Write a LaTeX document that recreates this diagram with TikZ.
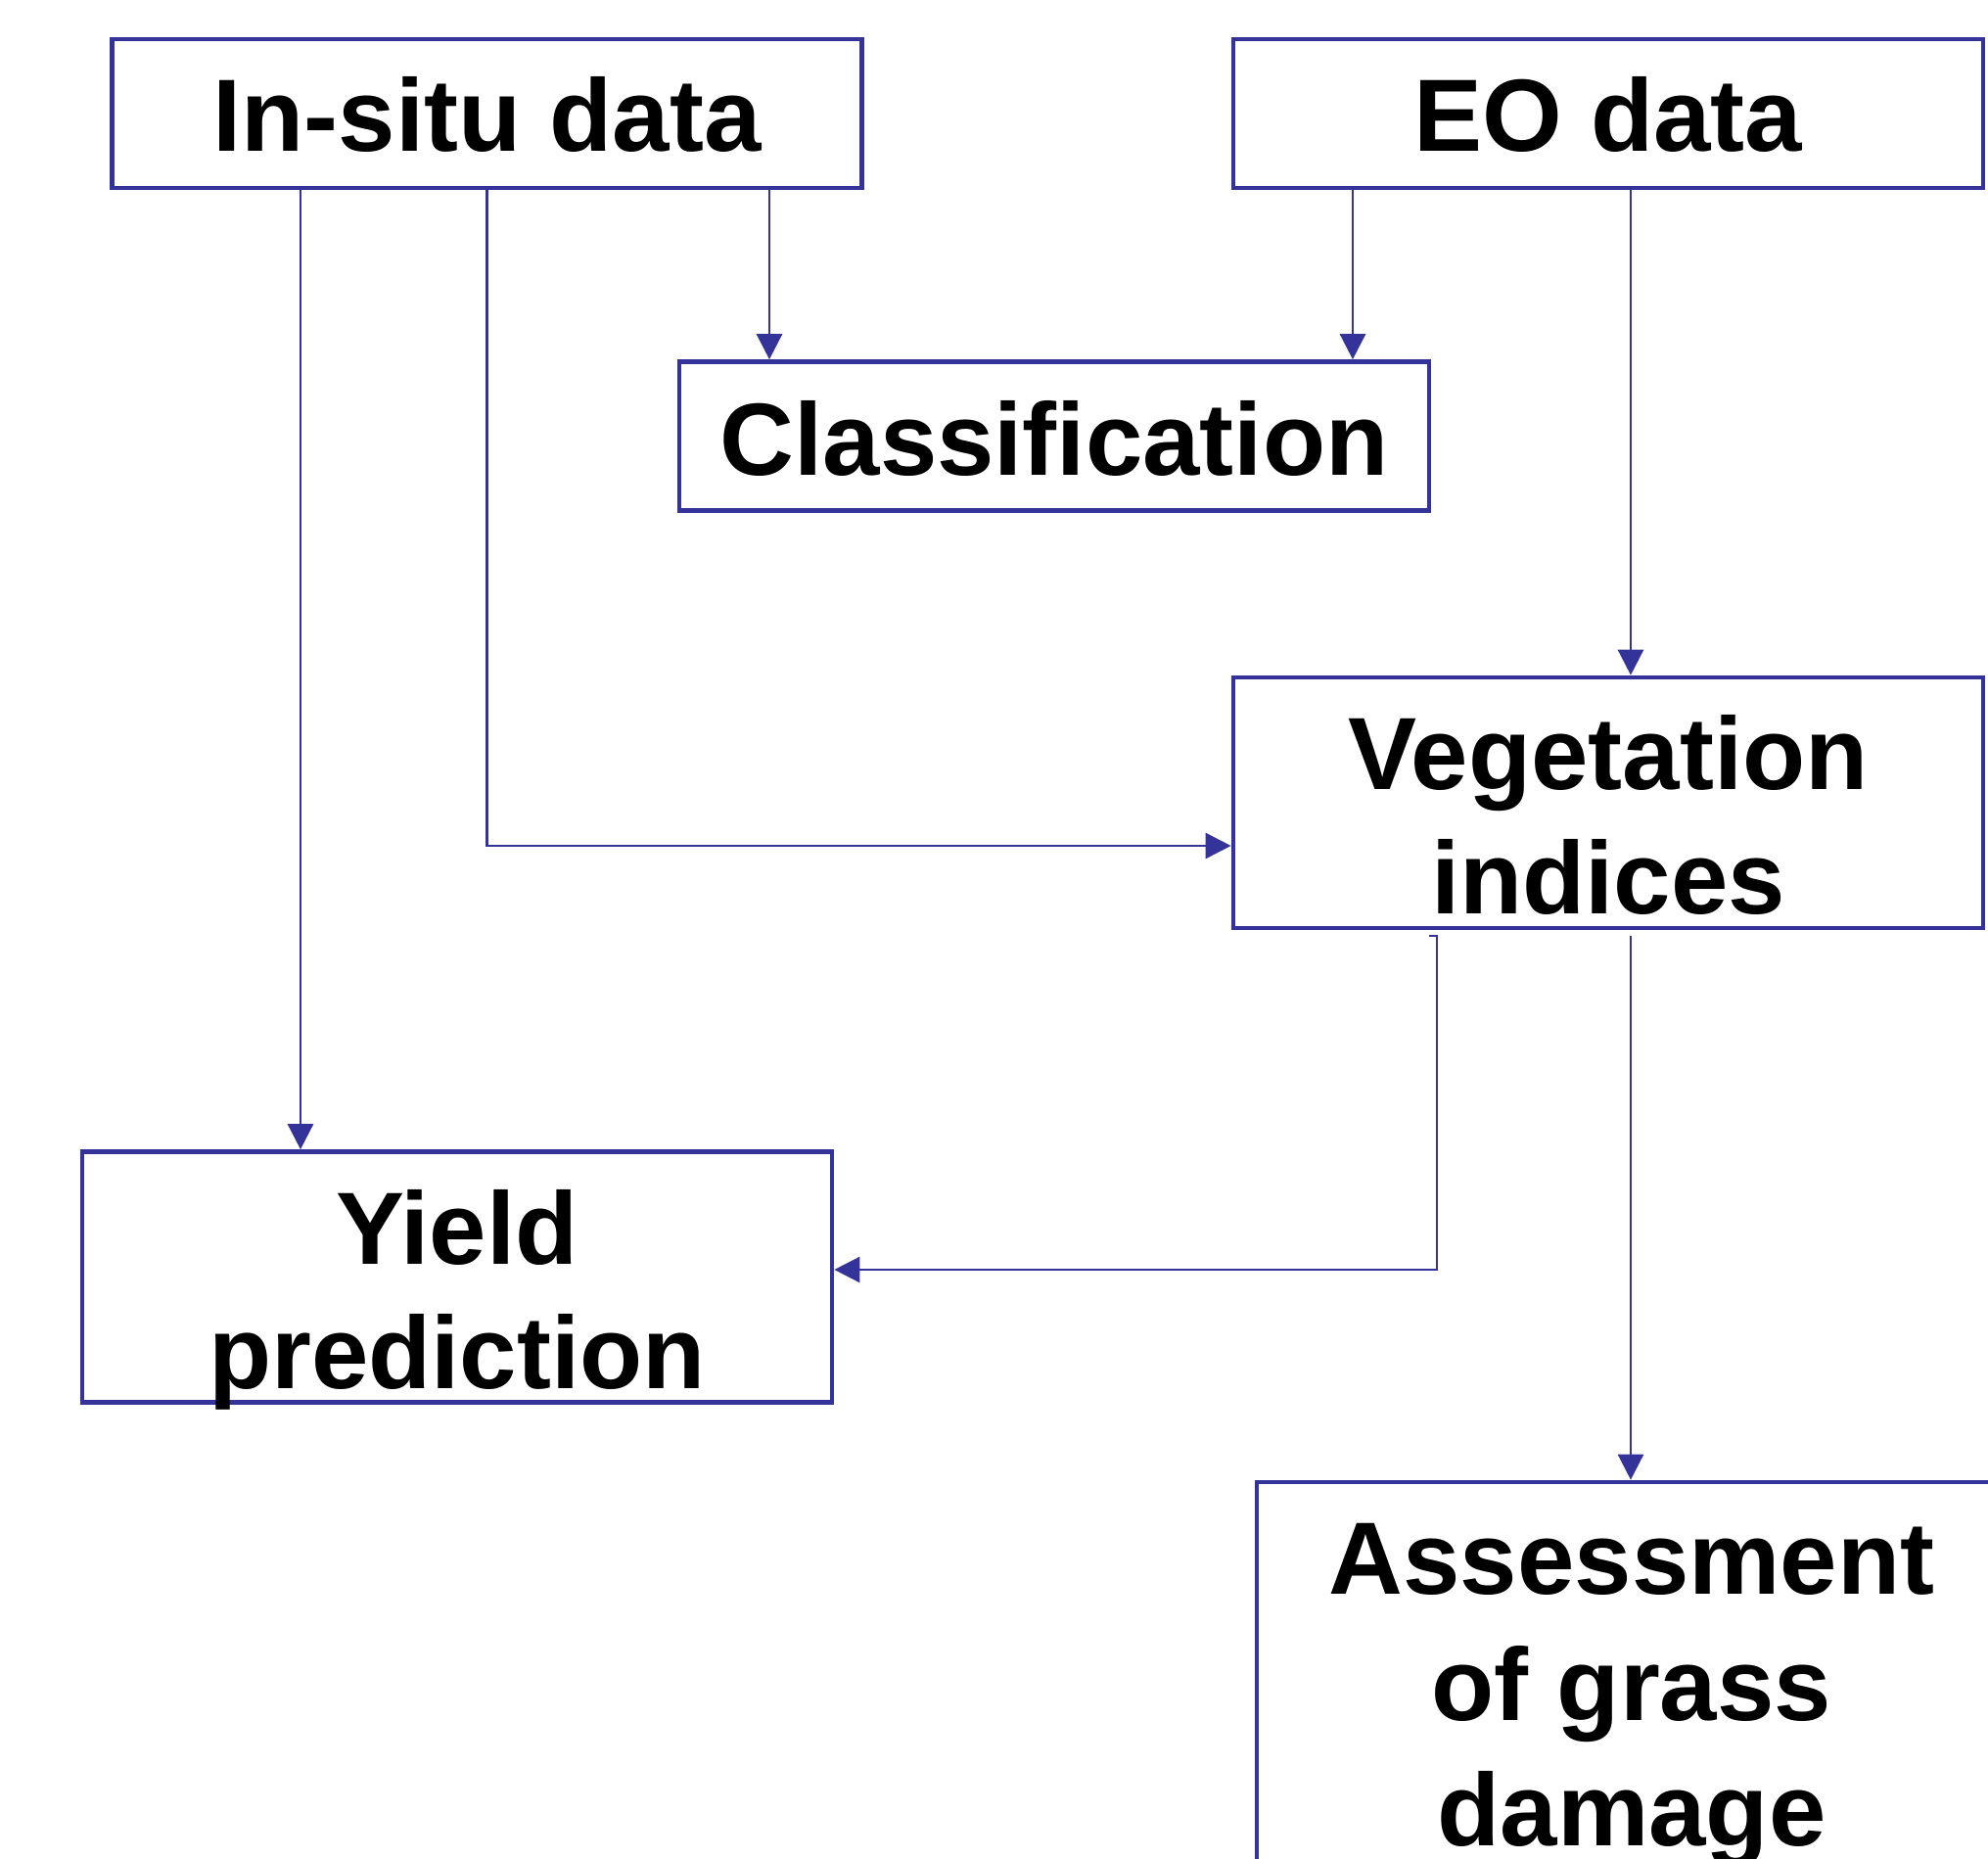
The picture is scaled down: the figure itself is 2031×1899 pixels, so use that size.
\documentclass[tikz,border=0pt]{standalone}
\usepackage{fontspec}
\setmainfont{Liberation Sans}
\usetikzlibrary{arrows.meta}
\definecolor{bl}{RGB}{51,51,153}
\begin{document}
\begin{tikzpicture}[x=0.5pt,y=-0.5pt,
  box/.style={draw=bl, line width=2.35pt, rectangle, inner sep=0pt, minimum width=383pt},
  onebox/.style={box, minimum height=76pt},
  twobox/.style={box, minimum height=128pt},
  lbl/.style={anchor=base, inner sep=0pt, font=\fontsize{52.5}{63}\selectfont\bfseries},
  conn/.style={draw=bl, line width=1.35pt, -{Triangle[length=13pt,width=13pt]}}]
\clip (0,0) rectangle (2031,1899);
\fill[white] (0,0) rectangle (2031,1899);
% boxes
\node[onebox] (insitu) at (497.5,116) {};
\node[onebox] (eo) at (1643,116) {};
\node[onebox] (cls) at (1077,445.5) {};
\node[twobox] (veg) at (1643,820) {};
\node[twobox] (yield) at (467,1304.5) {};
\node[box, minimum height=225pt] (assess) at (1667,1739) {};
% texts
\node[lbl] (t1) at (497.5,155) {In-situ data};
\node[lbl] (t2) at (1643,155) {EO data};
\node[lbl] (t3) at (1077,486) {Classification};
\node[lbl] (t4) at (1643,806) {Vegetation};
\node[lbl] (t5) at (1643,933) {indices};
\node[lbl] (t6) at (467,1291) {Yield};
\node[lbl] (t7) at (467,1418) {prediction};
\node[lbl] (t8) at (1667,1628) {Assessment};
\node[lbl] (t9) at (1667,1757) {of grass};
\node[lbl] (t10) at (1667,1885) {damage};
% helper coordinates
\coordinate (xa) at (307,0);
\coordinate (xb) at (786,0);
\coordinate (xc) at (1382,0);
\coordinate (xd) at (1666,0);
\coordinate (ya) at (0,864);
\coordinate (yb) at (0,1297);
\coordinate (vy0) at (1460,956);
\coordinate (vd) at (1666,956);
% connectors
\draw[conn] (insitu.south -| xa) -- (yield.north -| xa);
\draw[conn] (insitu.south) |- (veg.west |- ya);
\draw[conn] (insitu.south -| xb) -- (cls.north -| xb);
\draw[conn] (eo.south -| xc) -- (cls.north -| xc);
\draw[conn] (eo.south -| xd) -- (veg.north -| xd);
\draw[conn] (vy0) -- ++(8,0) |- (yield.east |- yb);
\draw[conn] (vd) -- (assess.north -| vd);
\end{tikzpicture}
\end{document}
